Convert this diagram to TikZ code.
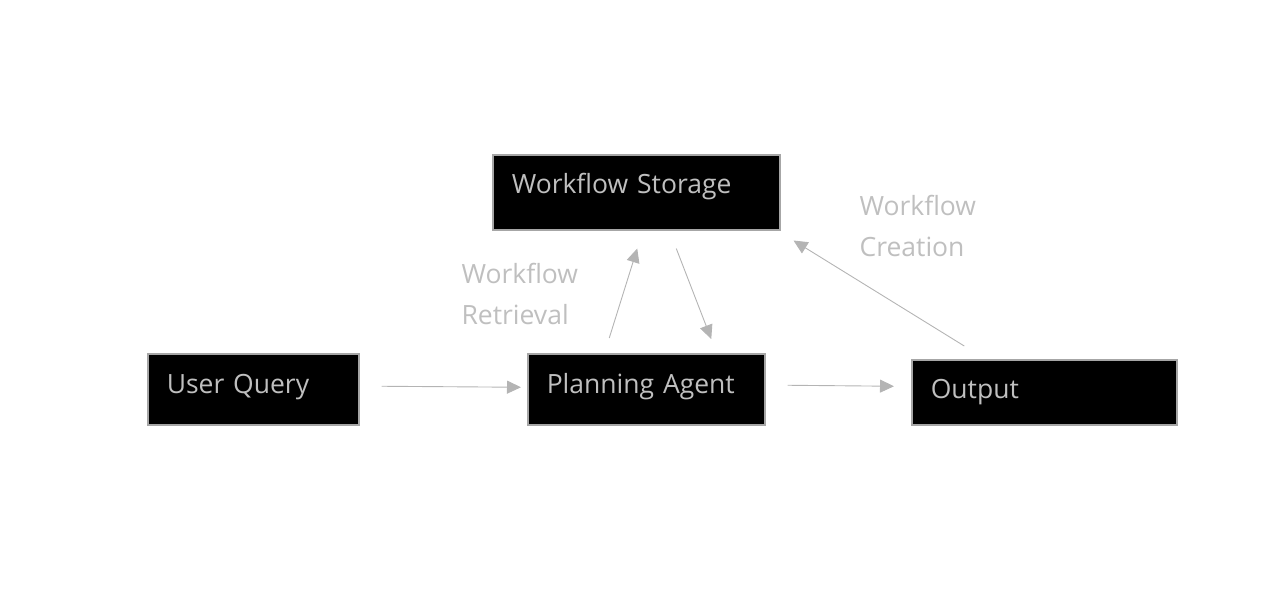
\documentclass[tikz,border=0pt]{standalone}
\usepackage{fontspec}
\setmainfont{Open Sans}
\usetikzlibrary{arrows.meta,positioning}
\definecolor{boxline}{HTML}{A6A6A6}
\definecolor{flowgray}{HTML}{B4B4B4}
\definecolor{labelgray}{HTML}{BFBFBF}
\tikzset{
    box/.style={draw=boxline, line width=1.5pt, fill=black, text=labelgray, anchor=north west,
        align=left, inner xsep=19pt, font=\fontsize{26.5}{30}\selectfont},
    flow/.style={draw=flowgray, line width=0.9pt, -{Triangle[length=14pt,width=13pt]}},
    note/.style={text=labelgray, align=left, anchor=west, font=\fontsize{26.5}{41}\selectfont}
}
\begin{document}
\begin{tikzpicture}[x=1pt,y=-1pt]
    \useasboundingbox (0,0) rectangle (1279,611);

    \node[box, minimum width=211pt, minimum height=71pt, text width=173pt, text depth=11pt] (uq) at (147,353) {User Query};
    \node[box, minimum width=237pt, minimum height=71pt, text width=199pt, text depth=11pt] (pa) at (527,353) {Planning Agent};
    \node[box, minimum width=287pt, minimum height=75pt, text width=249pt, text depth=17pt] (ws) at (492,154) {Workflow Storage};
    \node[box, minimum width=265pt, minimum height=65pt, text width=227pt] (out) at (911,359) {Output};

    \node[note] (ret) at (458,294) {Workflow\\Retrieval};
    \node[note] (cre) at (856,226) {Workflow\\Creation};

	\draw[flow] ([xshift=22pt,yshift=3pt]uq.east) -- ([xshift=-6pt,yshift=2pt]pa.west);
	\draw[flow] ([xshift=22pt,yshift=4pt]pa.east) -- ([xshift=-17pt,yshift=6pt]out.west);
	\draw[flow] ([xshift=-37pt,yshift=15pt]pa.north) -- ([xshift=1pt,yshift=-18pt]ws.south);
	\draw[flow] ([xshift=40pt,yshift=-18pt]ws.south) -- ([xshift=65pt,yshift=14pt]pa.north);
	\draw[flow] ([xshift=-80pt,yshift=13pt]out.north) -- ([xshift=13pt,yshift=-10pt]ws.south east);
\end{tikzpicture}
\end{document}
